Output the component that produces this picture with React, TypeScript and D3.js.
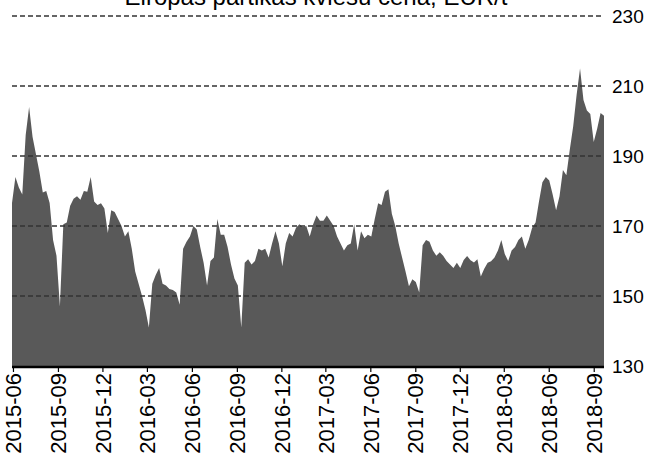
import React from "react";
import * as d3 from "d3";

const TITLE = "Eiropas pārtikas kviešu cena, EUR/t";
const START = "2015-05-29";
const STEP_DAYS = 7;
const prices = [
  176.6, 184, 181, 179, 196, 204, 195.5, 190.5, 185.5, 179.6,
  180, 176.6, 166, 161.5, 147, 170.5, 171, 175.8, 177.8, 178.5,
  177.5, 180, 179.8, 184, 177, 176, 176.5, 175, 168, 174.5,
  174, 172, 170, 167, 168.5, 163.5, 157, 153.5, 150, 146,
  141, 153.5, 156, 158, 153.5, 153, 152, 151.7, 151, 147.5,
  163.5, 165.5, 167, 170, 169, 164, 159.5, 153, 160, 161,
  172, 167.5, 167.5, 164, 159, 155, 153, 141, 159.5, 160.5,
  159, 160, 163.5, 163, 163.5, 161, 165, 168.5, 165, 158.5,
  165, 168, 167, 169.5, 170.5, 169.7, 170, 167, 170.5, 173,
  171.5, 171.5, 173, 171.5, 170, 167, 165, 163, 164.5, 165,
  170.5, 163, 168.5, 166.5, 167.5, 167, 172, 176.5, 176, 179.8,
  180.5, 173.5, 170, 165, 161, 157, 152.8, 154.8, 154, 151,
  164.5, 166, 165.5, 163, 161.5, 162.5, 161.5, 160, 159, 158,
  159.5, 158, 160.3, 161.4, 160.2, 159.6, 160.5, 155.6, 157.8, 159.5,
  159.9, 161, 163, 166, 162, 160, 163, 164, 166, 167,
  163.5, 166, 169.5, 171, 177, 182.5, 184, 183, 179, 174.5,
  178.5, 186, 184.5, 191.8, 198.5, 207.5, 215, 206, 203, 202,
  194, 197.8, 202.3, 201.5,
];
const xTickLabels = [
  "2015-06", "2015-09", "2015-12", "2016-03", "2016-06", "2016-09", "2016-12",
  "2017-03", "2017-06", "2017-09", "2017-12", "2018-03", "2018-06", "2018-09",
];
const yTicks = [130, 150, 170, 190, 210, 230];

const W = 660;
const H = 459;
const L = 12;
const R = 604;
const TOP = 16;
const BOTTOM = 366;
const FONT = "'Liberation Sans', Arial, sans-serif";

export default function App() {
  const start = d3.timeParse("%Y-%m-%d")(START) as Date;
  const data = prices.map((v, i) => ({ date: d3.timeDay.offset(start, STEP_DAYS * i), v }));
  const x = d3.scaleTime().domain([data[0].date, data[data.length - 1].date]).range([L, R]);
  const y = d3.scaleLinear().domain([130, 230]).range([BOTTOM, TOP]);
  const area = d3
    .area<{ date: Date; v: number }>()
    .x((d) => x(d.date))
    .y0(y(130))
    .y1((d) => y(d.v));
  const parseM = d3.timeParse("%Y-%m");

  return (
    <svg
      width={W}
      height={H}
      style={{ position: "absolute", left: 0, top: 0, background: "#fff" }}
      fontFamily={FONT}
    >
      <path d={area(data) || ""} fill="#595959" />
      {yTicks
        .filter((t) => t !== 130)
        .map((t) => (
          <line
            key={t}
            x1={L}
            x2={R}
            y1={y(t)}
            y2={y(t)}
            stroke="#333"
            strokeWidth={1.5}
            strokeDasharray="5,3"
          />
        ))}
      {yTicks.map((t) => (
        <text key={"l" + t} x={612} y={y(t)} dy="0.35em" fontSize={19} fill="#000">
          {t}
        </text>
      ))}
      <line x1={L} x2={R} y1={BOTTOM + 1} y2={BOTTOM + 1} stroke="#000" strokeWidth={2.5} />
      {xTickLabels.map((lab) => {
        const xx = x(parseM(lab) as Date);
        return (
          <g key={lab}>
            <line x1={xx} x2={xx} y1={BOTTOM} y2={BOTTOM + 6} stroke="#000" strokeWidth={1.2} />
            <text
              transform={`translate(${xx},${BOTTOM + 7}) rotate(-90)`}
              textAnchor="end"
              dy="0.35em"
              fontSize={22}
              fill="#000"
            >
              {lab}
            </text>
          </g>
        );
      })}
      <text x={316} y={5} textAnchor="middle" fontSize={24} fill="#000">
        {TITLE}
      </text>
    </svg>
  );
}
